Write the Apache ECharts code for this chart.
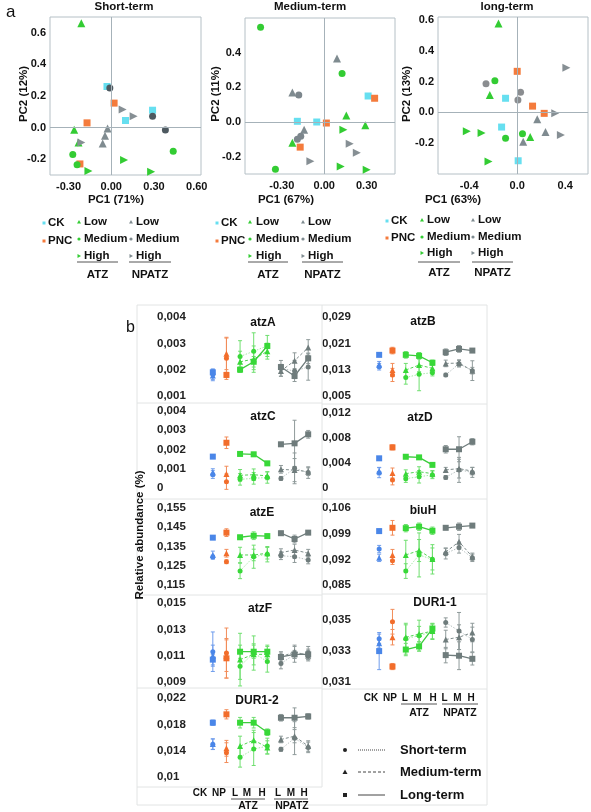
<!DOCTYPE html>
<html><head><meta charset="utf-8">
<script src="https://cdn.jsdelivr.net/npm/echarts@6/dist/echarts.min.js"></script>
<style>html,body{margin:0;padding:0;background:#fff}#c{width:591px;height:812px}</style>
</head><body><div id="c"></div>
<script>
// ---------------- PCA data (PC1, PC2) ----------------
const shortCK = [[-0.03,0.26],[0.10,0.045],[0.29,0.11]];
const shortPNC = [[0.02,0.155],[-0.17,0.03],[-0.22,-0.23]];
const shortAtzLow = [[-0.21,0.66],[-0.26,-0.013],[-0.23,-0.094]];
const shortAtzMedium = [[-0.27,-0.17],[0.435,-0.15],[-0.24,-0.235]];
const shortAtzHigh = [[0.09,-0.205],[-0.16,-0.275],[0.28,-0.28]];
const shortNpLow = [[-0.026,-0.006],[-0.044,-0.051],[-0.06,-0.10]];
const shortNpMedium = [[-0.01,0.25],[0.29,0.072],[0.38,-0.015]];
const shortNpHigh = [[0.08,0.115],[0.157,0.072],[-0.21,-0.094]];

const medCK = [[0.31,0.15],[-0.19,0.004],[-0.053,0]];
const medPNC = [[0.356,0.137],[0.015,-0.006],[-0.17,-0.145]];
const medAtzLow = [[0.156,0.038],[0.29,-0.019],[-0.225,-0.12]];
const medAtzMedium = [[-0.45,0.547],[0.126,0.28],[-0.345,-0.272]];
const medAtzHigh = [[0.135,-0.044],[0.116,-0.257],[0.30,-0.276]];
const medNpLow = [[0.09,0.366],[-0.225,0.17],[-0.142,-0.044]];
const medNpMedium = [[-0.18,0.156],[-0.166,-0.082],[-0.19,-0.10]];
const medNpHigh = [[0.18,-0.126],[0.23,-0.177],[-0.098,-0.227]];

const longCK = [[-0.097,0.092],[-0.13,-0.095],[0.008,-0.314]];
const longPNC = [[0,0.267],[0.128,0.041],[0.225,-0.006]];
const longAtzLow = [[-0.156,0.578],[-0.228,0.114],[0.108,-0.159]];
const longAtzMedium = [[-0.186,0.206],[0.044,-0.138],[-0.097,-0.168]];
const longAtzHigh = [[-0.42,-0.123],[-0.297,-0.133],[-0.239,-0.318]];
const longNpLow = [[0.167,-0.045],[0.236,-0.127],[0.05,-0.19]];
const longNpMedium = [[-0.26,0.187],[0.028,0.131],[0.006,0.08]];
const longNpHigh = [[0.41,0.29],[0.317,-0.006],[0.364,-0.146]];

const shortXTicks = [-0.3,0,0.3,0.6], shortYTicks = [-0.2,0,0.2,0.4,0.6];
const medXTicks = [-0.3,0,0.3], medYTicks = [-0.2,0,0.2,0.4];
const longXTicks = [-0.4,0,0.4], longYTicks = [-0.2,0,0.2,0.4,0.6];

const pcaTitles = ['Short-term','Medium-term','long-term'];
const pcaXNames = ['PC1 (71%)','PC1 (67%)','PC1 (63%)'];
const pcaYNames = ['PC2 (12%)','PC2 (11%)','PC2 (13%)'];
const legendLeft = ['CK','PNC'];
const legendLevels = ['Low','Medium','High'];
const legendGroups = ['ATZ','NPATZ'];

// ---------------- gene relative abundance (%) ----------------
const categories = ['CK','NP','L','M','H','L','M','H'];
const groupLabels = ['ATZ','NPATZ'];
const termNames = ['Short-term','Medium-term','Long-term'];

const atzA_short  = [0.00183,0.00243,0.0025,0.0027,0.0029,0.00205,0.00195,0.0021];
const atzA_medium = [0.00178,0.0026,0.0023,0.0024,0.0027,0.00195,0.00234,0.00284];
const atzA_long   = [0.0019,0.0018,0.0020,0.0023,0.0029,0.0021,0.00176,0.00243];
const atzA_errS = [0.0002,0.0008,0.0006,0.0007,0.0004,0.0003,0.0004,0.0005];
const atzA_errM = [0.0002,0.0006,0.0004,0.0005,0.0003,0.0002,0.0003,0.0003];
const atzA_errL = [0.0001,0.0001,0.0001,0.0002,0.0001,0.0001,0.0001,0.0002];
const atzA_ticks = [0.001,0.002,0.003,0.004];

const atzB_short  = [0.0139,0.0114,0.0106,0.0116,0.0121,0.0114,0.0148,0.0127];
const atzB_medium = [0.0145,0.0129,0.0129,0.0144,0.0134,0.0149,0.0150,0.0127];
const atzB_long   = [0.0175,0.0188,0.0175,0.0172,0.0151,0.0183,0.0193,0.0188];
const atzB_errS = [0.001,0.002,0.002,0.005,0.001,0.0005,0.001,0.003];
const atzB_errM = [0.001,0.002,0.002,0.002,0.001,0.001,0.001,0.001];
const atzB_errL = [0.0005,0.001,0.001,0.001,0.0008,0.001,0.001,0.0005];
const atzB_ticks = [0.005,0.013,0.021,0.029];

const atzC_short  = [0.0007,0.00033,0.00045,0.0005,0.00055,0.0005,0.00102,0.0008];
const atzC_medium = [0.0008,0.00073,0.00066,0.00069,0.00063,0.00097,0.00093,0.00085];
const atzC_long   = [0.00163,0.00235,0.00177,0.00175,0.00128,0.00227,0.00232,0.00279];
const atzC_errS = [0.0002,0.0004,0.0003,0.0003,0.0003,0.0001,0.0008,0.0003];
const atzC_errM = [0.0002,0.0004,0.0003,0.0003,0.0002,0.0002,0.0006,0.0002];
const atzC_errL = [0.0001,0.0003,0.0001,0.0001,0.0001,0.0001,0.0012,0.0002];
const atzC_ticks = [0,0.001,0.002,0.003,0.004];

const atzD_short  = [0.00245,0.0013,0.0015,0.0018,0.0021,0.0017,0.0029,0.0025];
const atzD_medium = [0.0027,0.0024,0.0023,0.0026,0.0023,0.0029,0.0031,0.0027];
const atzD_long   = [0.00475,0.0065,0.005,0.0049,0.0037,0.0062,0.0062,0.0074];
const atzD_errS = [0.0008,0.0008,0.0006,0.001,0.0006,0.0003,0.002,0.0008];
const atzD_errM = [0.0006,0.0008,0.0006,0.0008,0.0005,0.0004,0.0015,0.0006];
const atzD_errL = [0.0002,0.0004,0.0003,0.0002,0.0002,0.0006,0.002,0.0005];
const atzD_ticks = [0,0.004,0.008,0.012];

const atzE_short  = [0.1295,0.1271,0.1223,0.1297,0.1310,0.1302,0.1297,0.1280];
const atzE_medium = [0.1306,0.1315,0.1306,0.1306,0.1315,0.1318,0.1332,0.1315];
const atzE_long   = [0.1396,0.1422,0.1398,0.1406,0.1404,0.1419,0.1389,0.1422];
const atzE_errS = [0.001,0.001,0.004,0.006,0.004,0.002,0.003,0.002];
const atzE_errM = [0.002,0.002,0.004,0.003,0.003,0.002,0.003,0.002];
const atzE_errL = [0.001,0.002,0.001,0.002,0.001,0.001,0.002,0.001];
const atzE_ticks = [0.115,0.125,0.135,0.145,0.155];

const biuH_short  = [0.0948,0.0916,0.0888,0.0932,0.0920,0.0936,0.0952,0.0924];
const biuH_medium = [0.0924,0.0932,0.0932,0.0944,0.0921,0.0940,0.0968,0.0927];
const biuH_long   = [0.0997,0.1006,0.1005,0.1009,0.0998,0.1006,0.1009,0.1012];
const biuH_errS = [0.001,0.001,0.002,0.006,0.004,0.0015,0.0015,0.001];
const biuH_errM = [0.001,0.0015,0.004,0.003,0.003,0.001,0.002,0.001];
const biuH_errL = [0.0005,0.002,0.001,0.001,0.001,0.0005,0.001,0.0005];
const biuH_ticks = [0.085,0.092,0.099,0.106];

const atzF_short  = [0.0113,0.0112,0.0102,0.0112,0.01055,0.0104,0.0111,0.0112];
const atzF_medium = [0.0110,0.0110,0.0107,0.0111,0.0111,0.0109,0.0113,0.0110];
const atzF_long   = [0.0107,0.0108,0.0113,0.0113,0.0113,0.0109,0.0111,0.0111];
const atzF_errS = [0.0015,0.0019,0.001,0.0013,0.0008,0.0004,0.0006,0.0005];
const atzF_errM = [0.0008,0.0012,0.002,0.0008,0.0006,0.0004,0.0005,0.0004];
const atzF_errL = [0.0004,0.0015,0.0005,0.0005,0.0005,0.0003,0.0003,0.0004];
const atzF_ticks = [0.009,0.011,0.013,0.015];

const dur11_short  = [0.0338,0.0349,0.0338,0.0340,0.03425,0.03485,0.0343,0.03375];
const dur11_medium = [0.0335,0.0339,0.0339,0.0341,0.0343,0.03375,0.0339,0.0342];
const dur11_long   = [0.0330,0.0320,0.0331,0.0333,0.03446,0.03274,0.0327,0.0325];
const dur11_errS = [0.0003,0.0008,0.001,0.001,0.0005,0.0003,0.0012,0.0008];
const dur11_errM = [0.0003,0.0005,0.0008,0.0005,0.0005,0.0006,0.0008,0.0006];
const dur11_errL = [0.0012,0.0002,0.0004,0.0003,0.0003,0.0005,0.0009,0.0004];
const dur11_ticks = [0.031,0.033,0.035];

const dur12_short  = [0.01497,0.0137,0.0130,0.01425,0.0147,0.0142,0.0159,0.0145];
const dur12_medium = [0.0150,0.01436,0.0147,0.0156,0.0145,0.0157,0.0162,0.0147];
const dur12_long   = [0.01825,0.01952,0.01825,0.01825,0.0168,0.0190,0.0190,0.0192];
const dur12_errS = [0.0008,0.0015,0.0015,0.0025,0.0012,0.0003,0.0025,0.0008];
const dur12_errM = [0.0008,0.0012,0.0015,0.0015,0.001,0.0005,0.001,0.0008];
const dur12_errL = [0.0004,0.0007,0.0008,0.0008,0.0005,0.0005,0.0015,0.0004];
const dur12_ticks = [0.01,0.014,0.018,0.022];

// ---------------- build ----------------
const FONT = '"Liberation Sans", Arial, sans-serif';
const chart = echarts.init(document.getElementById('c'));
const grids = [], xAxes = [], yAxes = [], series = [], G = [];

function txt(t, x, y, size, opts) {
  opts = opts || {};
  const el = {type:'text', x:x, y:y, silent:true, z:100,
    style:{text:t, font:(opts.weight||'bold')+' '+size+'px '+FONT, fill:opts.fill||'#111',
      align:opts.align||'center', verticalAlign:'middle', textAlign:opts.align||'center', textVerticalAlign:'middle'}};
  if (opts.rot) el.rotation = opts.rot;
  G.push(el);
}
function gline(x1,y1,x2,y2,color,w,dash){
  const el={type:'line',silent:true,z:50,shape:{x1:x1,y1:y1,x2:x2,y2:y2},style:{stroke:color,lineWidth:w||1}};
  if(dash) el.style.lineDash=dash;
  G.push(el);
}
const rightTri = 'path://M0,0L10,5L0,10Z';

// PCA panels
const pcaLayout = [
  {left:50, top:17, width:151, height:158, xMin:-0.43, xMax:0.63, yMin:-0.3, yMax:0.7, xDec:2, titleX:124, xNameX:116, yNameX:24,
   leg:{ckM:44, ckT:48, ckY:223, pncY:241, c2M:79, c2T:84, c3M:131, c3T:136, rows:[222,239,256], ul:262, c2L:[77,118], c3L:[129,171], gY:275}},
  {left:245, top:18, width:150, height:156, xMin:-0.56, xMax:0.50, yMin:-0.3, yMax:0.6, xDec:2, titleX:310, xNameX:286, yNameX:216,
   leg:{ckM:217, ckT:221, ckY:223, pncY:241, c2M:250, c2T:256, c3M:303, c3T:308, rows:[222,239,256], ul:262, c2L:[248,288], c3L:[302,343], gY:275}},
  {left:438, top:17, width:150, height:157, xMin:-0.66, xMax:0.59, yMin:-0.4, yMax:0.62, xDec:1, titleX:507, xNameX:453, yNameX:407,
   leg:{ckM:387, ckT:391, ckY:221, pncY:238, c2M:422, c2T:427, c3M:473, c3T:478, rows:[220,237,253], ul:262, c2L:[418,460], c3L:[472,513], gY:273}}
];
const pcaGroups = [
  [shortCK, shortPNC, shortAtzLow, shortAtzMedium, shortAtzHigh, shortNpLow, shortNpMedium, shortNpHigh],
  [medCK, medPNC, medAtzLow, medAtzMedium, medAtzHigh, medNpLow, medNpMedium, medNpHigh],
  [longCK, longPNC, longAtzLow, longAtzMedium, longAtzHigh, longNpLow, longNpMedium, longNpHigh]
];
const pcaTicks = [[shortXTicks, shortYTicks],[medXTicks, medYTicks],[longXTicks, longYTicks]];
const CYAN='#66dff0', ORANGE='#f47b3c', GREEN='#33cc33', GREY='#7f8b90';
const npMedColors = ['#4d5960','#7c868c','#8a8d90'];

pcaLayout.forEach((L, pi) => {
  grids.push({left:L.left, top:L.top, width:L.width, height:L.height, show:true, borderColor:'#b5c0c6', borderWidth:1});
  const gi = grids.length - 1;
  const lab = {fontFamily:FONT, fontWeight:'bold', fontSize:11, color:'#111'};
  xAxes.push({type:'value', gridIndex:gi, min:L.xMin, max:L.xMax, axisLine:{show:false}, axisTick:{show:false}, splitLine:{show:false},
    axisLabel:Object.assign({customValues:pcaTicks[pi][0], margin:6, formatter:v=>v.toFixed(L.xDec)}, lab)});
  yAxes.push({type:'value', gridIndex:gi, min:L.yMin, max:L.yMax, axisLine:{show:false}, axisTick:{show:false}, splitLine:{show:false},
    axisLabel:Object.assign({customValues:pcaTicks[pi][1], margin:4, formatter:v=>v.toFixed(1)}, lab)});
  series.push({type:'scatter', xAxisIndex:gi, yAxisIndex:gi, data:[[0,0]], symbolSize:0, silent:true, z:1,
    markLine:{silent:true, symbol:'none', label:{show:false}, lineStyle:{color:'#a6b2b9', type:'solid', width:1},
      data:[{xAxis:0},{yAxis:0}]}});
  const styles = [
    {s:'rect', z:7, c:CYAN}, {s:'rect', z:7, c:ORANGE},
    {s:'triangle', z:8, c:GREEN}, {s:'circle', z:7, c:GREEN}, {s:rightTri, z:8, c:GREEN},
    {s:'triangle', z:8, c:GREY}, {s:'circle', z:7, c:npMedColors[pi]}, {s:rightTri, z:8, c:'#868f94'}
  ];
  pcaGroups[pi].forEach((g, k) => {
    series.push({type:'scatter', xAxisIndex:gi, yAxisIndex:gi, data:g, symbol:styles[k].s, symbolSize:styles[k].z,
      itemStyle:{color:styles[k].c, opacity:1}, z:3, silent:true});
  });
  txt(pcaTitles[pi], L.titleX, 7, 11.5);
  txt(pcaXNames[pi], L.xNameX, 200, 11.5);
  txt(pcaYNames[pi], L.yNameX, 94, 11.5, {rot:Math.PI/2});
  const lg = L.leg;
  G.push({type:'rect', silent:true, shape:{x:lg.ckM-1.5, y:lg.ckY-1.5, width:3, height:3}, style:{fill:CYAN}});
  G.push({type:'rect', silent:true, shape:{x:lg.ckM-1.5, y:lg.pncY-1.5, width:3, height:3}, style:{fill:ORANGE}});
  txt(legendLeft[0], lg.ckT, lg.ckY, 11.5, {align:'left'});
  txt(legendLeft[1], lg.ckT, lg.pncY, 11.5, {align:'left'});
  [[lg.c2M, lg.c2T, GREEN],[lg.c3M, lg.c3T, GREY]].forEach(([m, t, col]) => {
    lg.rows.forEach((y, r) => {
      if (r === 0) G.push({type:'polygon', silent:true, shape:{points:[[m,y-2],[m+2,y+1.5],[m-2,y+1.5]]}, style:{fill:col}});
      if (r === 1) G.push({type:'circle', silent:true, shape:{cx:m, cy:y, r:1.6}, style:{fill:col}});
      if (r === 2) G.push({type:'polygon', silent:true, shape:{points:[[m-1.5,y-2],[m+2,y],[m-1.5,y+2]]}, style:{fill:col}});
      txt(legendLevels[r], t, y, 11.5, {align:'left'});
    });
  });
  gline(lg.c2L[0], lg.ul, lg.c2L[1], lg.ul, '#555', 1);
  gline(lg.c3L[0], lg.ul, lg.c3L[1], lg.ul, '#555', 1);
  txt(legendGroups[0], (lg.c2L[0]+lg.c2L[1])/2, lg.gY, 11.5);
  txt(legendGroups[1], (lg.c3L[0]+lg.c3L[1])/2, lg.gY, 11.5);
});

// gene panels
const genes = [
  {name:'atzA', vals:[atzA_short,atzA_medium,atzA_long], errs:[atzA_errS,atzA_errM,atzA_errL], ticks:atzA_ticks, min:0.001, max:0.004},
  {name:'atzC', vals:[atzC_short,atzC_medium,atzC_long], errs:[atzC_errS,atzC_errM,atzC_errL], ticks:atzC_ticks, min:0, max:0.004},
  {name:'atzE', vals:[atzE_short,atzE_medium,atzE_long], errs:[atzE_errS,atzE_errM,atzE_errL], ticks:atzE_ticks, min:0.115, max:0.155},
  {name:'atzF', vals:[atzF_short,atzF_medium,atzF_long], errs:[atzF_errS,atzF_errM,atzF_errL], ticks:atzF_ticks, min:0.009, max:0.015},
  {name:'DUR1-2', vals:[dur12_short,dur12_medium,dur12_long], errs:[dur12_errS,dur12_errM,dur12_errL], ticks:dur12_ticks, min:0.01, max:0.022},
  {name:'atzB', vals:[atzB_short,atzB_medium,atzB_long], errs:[atzB_errS,atzB_errM,atzB_errL], ticks:atzB_ticks, min:0.005, max:0.029},
  {name:'atzD', vals:[atzD_short,atzD_medium,atzD_long], errs:[atzD_errS,atzD_errM,atzD_errL], ticks:atzD_ticks, min:0, max:0.012},
  {name:'biuH', vals:[biuH_short,biuH_medium,biuH_long], errs:[biuH_errS,biuH_errM,biuH_errL], ticks:biuH_ticks, min:0.085, max:0.106},
  {name:'DUR1-1', vals:[dur11_short,dur11_medium,dur11_long], errs:[dur11_errS,dur11_errM,dur11_errL], ticks:dur11_ticks, min:0.031, max:0.0365}
];
const geneLayout = [
  {left:206, top:317, height:79, tx:263, ty:323},
  {left:206, top:411, height:77, tx:263, ty:417},
  {left:206, top:508, height:77, tx:262, ty:513},
  {left:206, top:603, height:79, tx:260, ty:609},
  {left:206, top:698, height:79, tx:257, ty:701},
  {left:372.5, top:317, height:79, tx:423, ty:322},
  {left:372.5, top:413, height:75, tx:420, ty:418},
  {left:372.5, top:508, height:77, tx:423, ty:511},
  {left:372.5, top:597, height:85, tx:435, ty:603}
];
const catColors = ['#4a86e8','#f26d2b','#38d838','#38d838','#38d838','#6f7c7c','#6f7c7c','#6f7c7c'];
const errColors = ['#6f9dec','#f28d5a','#6fdf6f','#6fdf6f','#6fdf6f','#8f9a9a','#8f9a9a','#8f9a9a'];
const termStyle = [
  {sym:'circle', size:5, dash:[1.5,1.5], atz:'#a5eaa5', np:'#b7c0c0', w:1},
  {sym:'triangle', size:6, dash:[3,2], atz:'#52d452', np:'#7f8c8c', w:1},
  {sym:'rect', size:6, dash:'solid', atz:'#3ccc3c', np:'#6f7c7c', w:1.3}
];
const fmtComma = v => String(Number(v.toPrecision(6))).replace('.', ',');

genes.forEach((g, k) => {
  const L = geneLayout[k];
  const right = L.left > 300;
  const width = right ? 106.5 : 109;
  grids.push({left:L.left, top:L.top, width:width, height:L.height, show:false});
  const gi = grids.length - 1;
  xAxes.push({type:'category', gridIndex:gi, data:categories, boundaryGap:true, axisLine:{show:false}, axisTick:{show:false}, axisLabel:{show:false}, splitLine:{show:false}});
  yAxes.push({type:'value', gridIndex:gi, min:g.min, max:g.max, axisLine:{show:false}, axisTick:{show:false}, splitLine:{show:false},
    axisLabel:{customValues:g.ticks, formatter:fmtComma, align:'left', margin: right ? 50.5 : 49, fontFamily:FONT, fontWeight:'bold', fontSize:11.5, color:'#222'}});
  [[2,3,4],[5,6,7]].forEach((idx, gr) => {
    g.vals.forEach((vals, t) => {
      const ts = termStyle[t];
      series.push({type:'line', xAxisIndex:gi, yAxisIndex:gi, silent:true, showSymbol:false, symbol:'none', z:2,
        data: vals.map((v, i) => idx.includes(i) ? v : null),
        lineStyle:{color: gr === 0 ? ts.atz : ts.np, width: ts.w, type: ts.dash}});
    });
  });
  g.vals.forEach((vals, t) => {
    series.push({type:'custom', xAxisIndex:gi, yAxisIndex:gi, silent:true, z:3,
      data: vals.map((v, i) => [i, v, g.errs[t][i]]), encode:{x:0, y:1},
      renderItem: (params, api) => {
        const i = api.value(0), v = api.value(1), e = api.value(2);
        const a = api.coord([i, v + e]), b = api.coord([i, v - e]);
        const c = errColors[i];
        return {type:'group', children:[
          {type:'line', shape:{x1:a[0], y1:a[1], x2:b[0], y2:b[1]}, style:{stroke:c, lineWidth:1}},
          {type:'line', shape:{x1:a[0]-2, y1:a[1], x2:a[0]+2, y2:a[1]}, style:{stroke:c, lineWidth:1}},
          {type:'line', shape:{x1:b[0]-2, y1:b[1], x2:b[0]+2, y2:b[1]}, style:{stroke:c, lineWidth:1}}
        ]};
      }});
  });
  g.vals.forEach((vals, t) => {
    const ts = termStyle[t];
    series.push({type:'scatter', xAxisIndex:gi, yAxisIndex:gi, silent:true, z:4, symbol:ts.sym, symbolSize:ts.size,
      data: vals.map((v, i) => ({value:[i, v], itemStyle:{color:catColors[i], opacity:1}}))});
  });
  txt(g.name, L.tx, L.ty, 12);
});

// frames for panel b
const FR = '#e2e4e4';
G.push({type:'rect', silent:true, z:0, shape:{x:137, y:305, width:350, height:500}, style:{fill:'none', stroke:FR, lineWidth:1}});
gline(322, 305, 322, 787, FR, 1);
[403, 499, 595, 688, 787].forEach(y => gline(137, y, 322, y, FR, 1));
[404, 499, 594, 689].forEach(y => gline(322, y, 487, y, FR, 1));

// category labels under the bottom panels
const labLeftX = [200,219,235,247,262,278,291,304];
const labRightX = [371,390,404.7,417.5,433,444.5,457.5,471];
categories.forEach((c, i) => { txt(c, labLeftX[i], 793, 10); txt(c, labRightX[i], 698, 10); });
gline(231, 799, 265, 799, '#555', 1); gline(274, 799, 308, 799, '#555', 1);
txt(groupLabels[0], 248, 806, 10.5); txt(groupLabels[1], 292, 806, 10.5);
gline(401, 704, 437, 704, '#555', 1); gline(442, 704, 478, 704, '#555', 1);
txt(groupLabels[0], 419, 713, 10.5); txt(groupLabels[1], 460, 713, 10.5);

// term legend
const legY = [750, 772, 795];
G.push({type:'circle', silent:true, shape:{cx:345, cy:legY[0], r:2}, style:{fill:'#222'}});
G.push({type:'polygon', silent:true, shape:{points:[[345,legY[1]-2.5],[347.5,legY[1]+2],[342.5,legY[1]+2]]}, style:{fill:'#222'}});
G.push({type:'rect', silent:true, shape:{x:343, y:legY[2]-2, width:4, height:4}, style:{fill:'#222'}});
gline(358, legY[0], 385, legY[0], '#444', 1, [1,1]);
gline(358, legY[1], 385, legY[1], '#444', 1, [3,2]);
gline(358, legY[2], 385, legY[2], '#444', 1);
termNames.forEach((t, i) => txt(t, 400, legY[i], 13, {align:'left'}));

// panel letters and y title
txt('a', 6, 12, 17, {weight:'normal', align:'left'});
txt('b', 126, 328, 16, {weight:'normal', align:'left'});
txt('Relative abundance (%)', 140, 535, 11.5, {rot:Math.PI/2});

chart.setOption({
  animation:false,
  grid:grids, xAxis:xAxes, yAxis:yAxes, series:series,
  graphic:{elements:G}
});
</script></body></html>
